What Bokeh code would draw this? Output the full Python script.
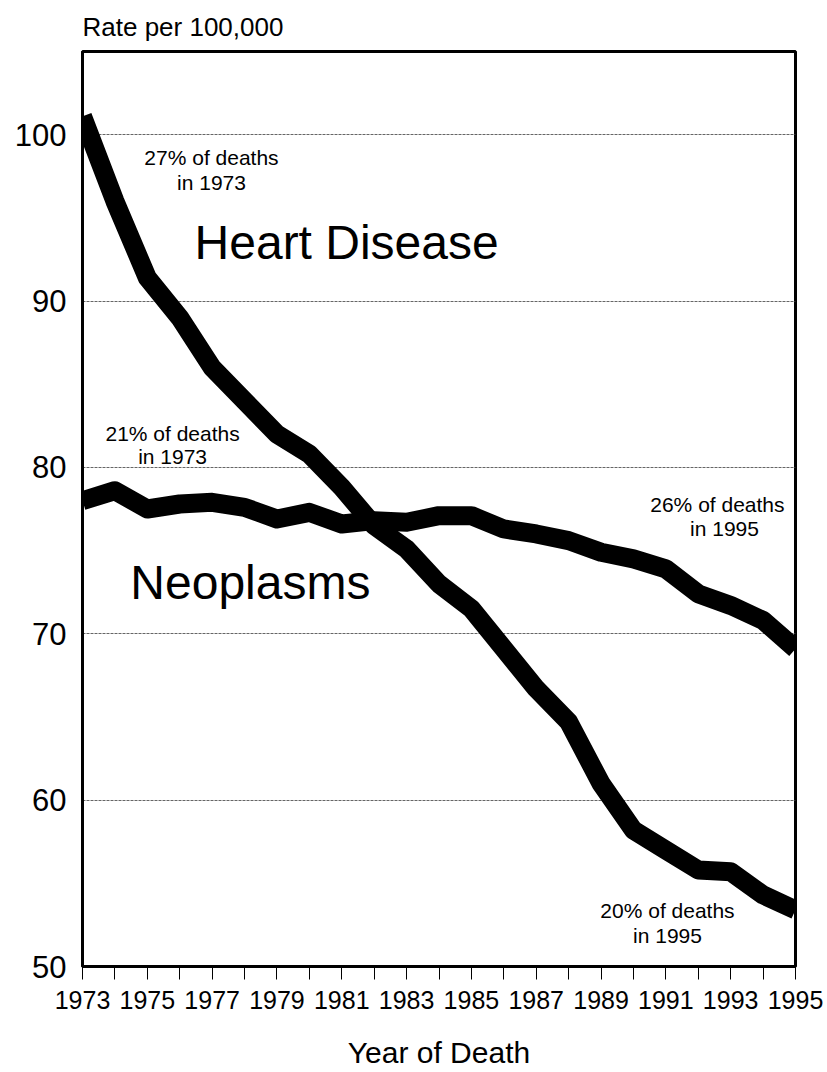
from bokeh.plotting import figure
from bokeh.models import FixedTicker, Label, ColumnDataSource
from bokeh.embed import file_html
from bokeh.resources import INLINE

years = list(range(1973, 1996))
heart_disease = [101.1, 96.0, 91.4, 89.0, 86.0, 84.0, 82.0, 80.8, 78.8, 76.5, 75.1, 73.0, 71.5,
                 69.1, 66.7, 64.7, 61.0, 58.2, 57.0, 55.8, 55.7, 54.3, 53.4]
neoplasms = [78.0, 78.6, 77.5, 77.8, 77.9, 77.6, 76.9, 77.3, 76.6, 76.8, 76.7, 77.1, 77.1,
             76.3, 76.0, 75.6, 74.9, 74.5, 73.9, 72.4, 71.7, 70.8, 69.1]
y_ticks = [50, 60, 70, 80, 90, 100]
x_label_years = [y for y in years if (y - 1973) % 2 == 0]

FONT = "Liberation Sans"

p = figure(frame_width=713, frame_height=915, x_range=(1973, 1995), y_range=(50, 105),
           output_backend="svg", toolbar_location=None,
           min_border_left=82, min_border_right=30, min_border_top=46, min_border_bottom=95)

p.title.text = "Rate per 100,000"
p.title.align = "left"
p.title.text_font = FONT
p.title.text_font_size = "26px"
p.title.text_font_style = "normal"
p.title.text_color = "black"
p.title.standoff = 19

src = ColumnDataSource(dict(year=years, heart=heart_disease, neo=neoplasms))
p.line("year", "heart", source=src, line_color="black", line_width=19, line_join="round")
p.line("year", "neo", source=src, line_color="black", line_width=19, line_join="round")

p.outline_line_color = "black"
p.outline_line_width = 3
p.outline_line_alpha = 1

# x axis
p.xaxis.ticker = FixedTicker(ticks=years)
p.xaxis.major_label_overrides = {y: (str(y) if y in x_label_years else "") for y in years}
p.xaxis.minor_tick_line_color = None
p.xaxis.major_tick_in = 0
p.xaxis.major_tick_out = 13
p.xaxis.major_tick_line_color = "black"
p.xaxis.major_tick_line_width = 1
p.xaxis.axis_line_color = "black"
p.xaxis.axis_line_width = 3
p.xaxis.major_label_text_font = FONT
p.xaxis.major_label_text_font_size = "25px"
p.xaxis.major_label_text_color = "black"
p.xaxis.major_label_standoff = 11
p.xaxis.axis_label = "Year of Death"
p.xaxis.axis_label_text_font = FONT
p.xaxis.axis_label_text_font_size = "30px"
p.xaxis.axis_label_text_font_style = "normal"
p.xaxis.axis_label_text_color = "black"
p.xaxis.axis_label_standoff = 24

# y axis
p.yaxis.ticker = FixedTicker(ticks=y_ticks)
p.yaxis.minor_tick_line_color = None
p.yaxis.major_tick_line_color = None
p.yaxis.axis_line_color = "black"
p.yaxis.axis_line_width = 3
p.yaxis.major_label_text_font = FONT
p.yaxis.major_label_text_font_size = "31px"
p.yaxis.major_label_text_color = "black"
p.yaxis.major_label_standoff = 10

p.xgrid.grid_line_color = None
p.ygrid.grid_line_color = "#666666"
p.ygrid.grid_line_width = 1
p.ygrid.grid_line_dash = "3 1"

def add_label(x, y, text, size):
    p.add_layout(Label(x=x, y=y, text=text, text_font=FONT, text_font_size=size,
                       text_align="center", text_baseline="middle", text_color="black"))

add_label(1981.15, 93.5, "Heart Disease", "48px")
add_label(1978.18, 73.1, "Neoplasms", "48px")
add_label(1976.98, 98.6, "27% of deaths", "21px")
add_label(1976.98, 97.1, "in 1973", "21px")
add_label(1975.78, 82.06, "21% of deaths", "21px")
add_label(1975.78, 80.68, "in 1973", "21px")
add_label(1992.59, 77.77, "26% of deaths", "21px")
add_label(1992.9, 76.3, "in  1995", "21px")
add_label(1991.05, 53.35, "20% of deaths", "21px")
add_label(1991.05, 51.85, "in 1995", "21px")

open("out.html", "w").write(file_html(p, INLINE))
